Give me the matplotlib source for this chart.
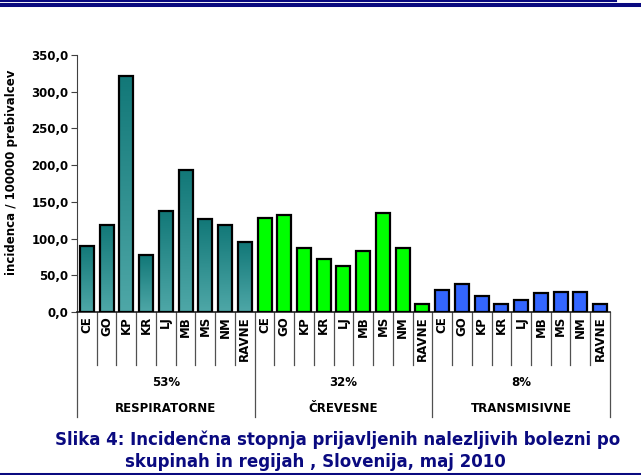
import numpy as np
import matplotlib
matplotlib.use("Agg")
import matplotlib.pyplot as plt
from matplotlib.colors import LinearSegmentedColormap
from matplotlib.transforms import blended_transform_factory

# podatki
regije = ["CE", "GO", "KP", "KR", "LJ", "MB", "MS", "NM", "RAVNE"]
skupine = ["RESPIRATORNE", "ČREVESNE", "TRANSMISIVNE"]
deleži = ["53%", "32%", "8%"]
respiratorne = [90.0, 118.5, 322.0, 77.0, 138.0, 194.0, 126.5, 118.5, 95.0]
crevesne = [128.5, 132.0, 86.5, 71.5, 63.0, 83.5, 135.0, 86.5, 11.5]
transmisivne = [30.5, 38.5, 22.0, 10.5, 16.0, 25.5, 27.0, 27.0, 10.5]
y_ticks = [0, 50, 100, 150, 200, 250, 300, 350]
y_tick_labels = ["0,0", "50,0", "100,0", "150,0", "200,0", "250,0", "300,0", "350,0"]

navy = "#0a0a80"
fs = 8.5

fig = plt.figure(figsize=(6.41, 4.75), dpi=100)
ax = fig.add_axes([0.1201, 0.3432, 0.8315, 0.541])

n = len(regije)
x_resp = np.arange(n)
x_crev = np.arange(n) + n
x_tran = np.arange(n) + 2 * n
w = 0.71

# respiratorne - stolpci z gradientom
teal = LinearSegmentedColormap.from_list("teal", ["#4ea7a7", "#127878"])
grad = np.linspace(0, 1, 100).reshape(-1, 1)
bars = ax.bar(x_resp, respiratorne, width=w, facecolor="none",
              edgecolor="black", linewidth=1.6, zorder=3)
for b in bars:
    x0 = b.get_x()
    img = ax.imshow(grad, extent=[x0, x0 + b.get_width(), 0, b.get_height()],
                    origin="lower", aspect="auto", cmap=teal, zorder=2)
    img.set_clip_path(b)

ax.bar(x_crev, crevesne, width=w, color="#00ff00", edgecolor="black",
       linewidth=1.6, zorder=3)
ax.bar(x_tran, transmisivne, width=w, color="#3366ff", edgecolor="black",
       linewidth=1.6, zorder=3)

ax.set_xlim(-0.5, 3 * n - 0.5)
ax.set_ylim(0, 350)
ax.set_yticks(y_ticks)
ax.set_yticklabels(y_tick_labels, fontsize=fs, fontweight="bold")
ax.tick_params(axis="y", length=4, width=0.8, color="#404040", pad=2)
ax.set_xticks([])
ax.set_ylabel("incidenca / 100000 prebivalcev", fontsize=fs, fontweight="bold")
ax.yaxis.set_label_coords(-0.111, 0.545)

for s in ["top", "right"]:
    ax.spines[s].set_visible(False)
ax.spines["left"].set_color("#404040")
ax.spines["bottom"].set_color("#202020")
ax.spines["bottom"].set_linewidth(1.2)

# kategorijska os pod grafom
tr = blended_transform_factory(ax.transData, fig.transFigure)
y_axis = 0.3432
y_kat = 0.2316
y_skup = 0.1221
vse = regije * 3
for i, lab in enumerate(vse):
    ax.text(i, 0.3347, lab, transform=tr, rotation=90, ha="center", va="top",
            fontsize=fs, fontweight="bold", clip_on=False)
for i in range(3 * n + 1):
    y_end = y_skup if i % n == 0 else y_kat
    ax.plot([i - 0.5, i - 0.5], [y_axis, y_end], transform=tr, color="#505050",
            linewidth=0.9, clip_on=False)
for g in range(3):
    xc = g * n + (n - 1) / 2
    ax.text(xc, 0.1937, deleži[g], transform=tr, ha="center", va="center",
            fontsize=fs, fontweight="bold")
    ax.text(xc, 0.141, skupine[g], transform=tr, ha="center", va="center",
            fontsize=fs, fontweight="bold")

# naslov spodaj
fig.text(0.526, 0.0737, "Slika 4: Incidenčna stopnja prijavljenih nalezljivih bolezni po",
         ha="center", va="center", fontsize=12, fontweight="bold", color=navy)
fig.text(0.492, 0.0274, "skupinah in regijah , Slovenija, maj 2010",
         ha="center", va="center", fontsize=12, fontweight="bold", color=navy)

# okvirne črte
fig.add_artist(plt.Line2D([0, 0.961], [0.9973, 0.9973], transform=fig.transFigure,
                          color=navy, linewidth=1.5))
fig.add_artist(plt.Line2D([0, 1], [0.9888, 0.9888], transform=fig.transFigure,
                          color=navy, linewidth=2.9))
fig.add_artist(plt.Line2D([0, 1], [0.003, 0.003], transform=fig.transFigure,
                          color=navy, linewidth=2.2))

fig.savefig("out.png", dpi=100)
